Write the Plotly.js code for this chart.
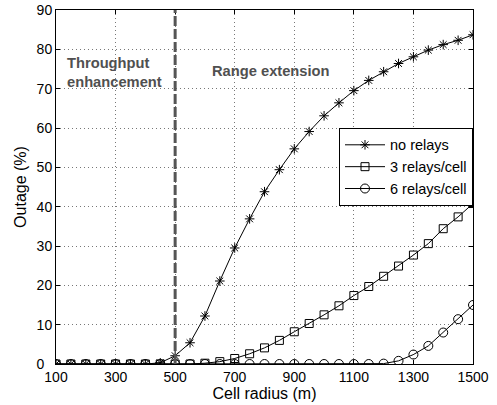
<!DOCTYPE html>
<html><head><meta charset="utf-8">
<script src="https://cdn.plot.ly/plotly-3.0.1.min.js"></script>
<style>html,body{margin:0;padding:0;background:#fff}#chart{width:497px;height:405px}</style>
</head><body><div id="chart"></div>
<script>
const radius = [100,150,200,250,300,350,400,450,500,550,600,650,700,750,800,850,900,950,1000,1050,1100,1150,1200,1250,1300,1350,1400,1450,1500];
const noRelays = [0,0,0,0,0,0,0,0.3,2.1,5.4,12.2,21.1,29.5,36.9,43.8,49.4,54.7,59.1,63.1,66.4,69.5,72.1,74.3,76.4,78.1,79.8,81.2,82.3,83.7];
const relays3 = [0,0,0,0,0,0,0,0,0,0,0.2,0.6,1.4,2.6,4.1,6.0,8.2,10.3,12.5,14.8,17.4,19.7,22.3,24.9,27.7,30.6,34.4,37.4,40.8];
const relays6 = [0,0,0,0,0,0,0,0,0,0,0,0,0,0,0,0,0,0,0,0,0,0,0.1,0.8,2.4,4.6,8.0,11.4,15.0];
const seriesNames = ["no relays","3 relays/cell","6 relays/cell"];
const xTicks = [100,300,500,700,900,1100,1300,1500];
const yTicks = [0,10,20,30,40,50,60,70,80,90];
const boundaryX = 500;
const regionLabels = ["Throughput<br>enhancement","Range extension"];

const font = "'Liberation Sans', Arial, sans-serif";
const mk = (sym, size) => ({symbol: sym, size: size, color: "#000", line: {color: "#000", width: 1}});
const traces = [
  {x: radius, y: noRelays, name: seriesNames[0], mode: "lines+markers", line: {color: "#000", width: 1}, marker: mk("asterisk-open", 8)},
  {x: radius, y: relays3, name: seriesNames[1], mode: "lines+markers", line: {color: "#000", width: 1}, marker: mk("square-open", 8)},
  {x: radius, y: relays6, name: seriesNames[2], mode: "lines+markers", line: {color: "#000", width: 1}, marker: mk("circle-open", 9)}
];
const axisBase = {showline: true, mirror: "ticks", linecolor: "#000", linewidth: 1, ticks: "inside", ticklen: 4, tickcolor: "#000",
  showgrid: true, gridcolor: "#777", griddash: "1px,3px", gridwidth: 1, zeroline: false, ticklabeloverflow: "allow",
  tickfont: {family: font, size: 14, color: "#000"}};
const layout = {
  width: 497, height: 405,
  margin: {l: 56, r: 24, t: 10, b: 41},
  paper_bgcolor: "#fff", plot_bgcolor: "#fff",
  font: {family: font, color: "#000"},
  xaxis: Object.assign({}, axisBase, {range: [100,1500], tickvals: xTicks, ticktext: xTicks.map(String),
    title: {text: "Cell radius (m)", font: {family: font, size: 16}, standoff: 2}}),
  yaxis: Object.assign({}, axisBase, {range: [0,90], tickvals: yTicks,
    ticktext: yTicks.map(v => v === 0 ? "0\u00a0\u00a0" : String(v)),
    title: {text: "Outage (%)", font: {family: font, size: 16}, standoff: 6}}),
  legend: {x: 1, xanchor: "right", y: 0.667, yanchor: "top", bgcolor: "#fff", bordercolor: "#000", borderwidth: 1,
    font: {family: font, size: 14.5, color: "#000"}, tracegroupgap: 0, itemwidth: 40},
  showlegend: true,
  shapes: [{type: "line", xref: "x", yref: "paper", x0: boundaryX, x1: boundaryX, y0: 0, y1: 1,
    line: {color: "#555", width: 3, dash: "10px,3px"}}],
  annotations: [
    {text: "<b>" + regionLabels[0] + "</b>", xref: "x", yref: "y", x: 130, y: 74.2, xanchor: "left", yanchor: "middle", align: "left",
      showarrow: false, font: {family: font, size: 14.7, color: "#505050"}},
    {text: "<b>" + regionLabels[1] + "</b>", xref: "x", yref: "y", x: 821, y: 74.5, xanchor: "center", yanchor: "middle",
      showarrow: false, font: {family: font, size: 14.7, color: "#505050"}}
  ]
};
Plotly.newPlot("chart", traces, layout, {displayModeBar: false, staticPlot: true});
</script></body></html>
